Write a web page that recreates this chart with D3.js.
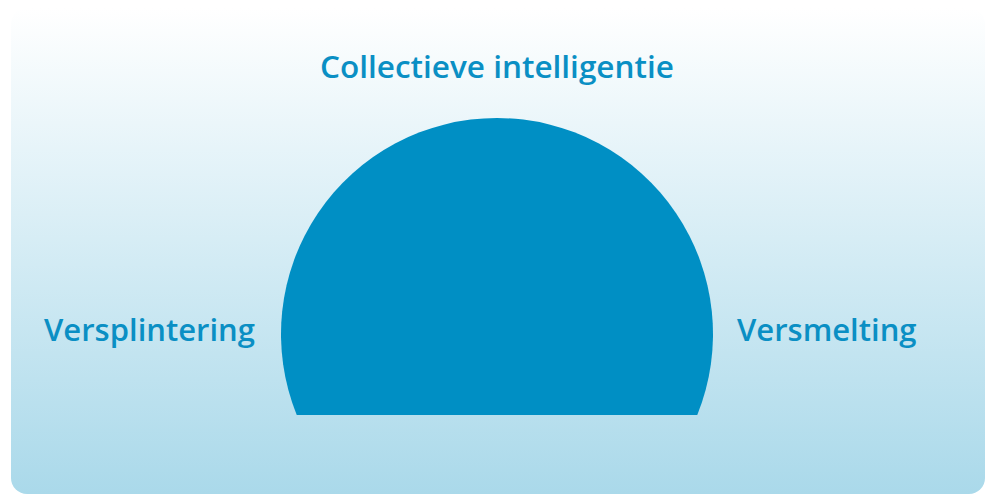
<!DOCTYPE html>
<html>
<head>
<meta charset="utf-8">
<script src="https://cdn.jsdelivr.net/npm/d3@7"></script>
<style>
  html, body { margin: 0; padding: 0; background: #ffffff; }
  svg { display: block; }
</style>
</head>
<body>
<script>
// axis labels around the dome
var labelNames = ['Versplintering', 'Collectieve intelligentie', 'Versmelting'];
var labelSide = ['left', 'top', 'right'];
// dome: position on a -1..1 axis (left .. right), height 0..1, cut-off below centre
var domeSpan = [-1, 1];
var domeTop = [1];
var domeCut = [-0.375];

var width = 992, height = 495;
var blue = '#008fc4';

var svg = d3.select('body').append('svg')
  .attr('width', width)
  .attr('height', height);

var defs = svg.append('defs');
var grad = defs.append('linearGradient')
  .attr('id', 'bgGrad')
  .attr('x1', 0).attr('y1', 0).attr('x2', 0).attr('y2', 1);
grad.append('stop').attr('offset', '0%').attr('stop-color', '#ffffff');
grad.append('stop').attr('offset', '100%').attr('stop-color', '#aad9ea');

// panel background
svg.append('rect')
  .attr('x', 11).attr('y', 8)
  .attr('width', 974).attr('height', 486)
  .attr('rx', 16).attr('ry', 16)
  .attr('fill', 'url(#bgGrad)');

// scales: x from -1..1, y from -1..1 (centre of the circle at 0)
var cx = 497, cy = 334, r = 216;
var x = d3.scaleLinear().domain(domeSpan).range([cx - r, cx + r]);
var y = d3.scaleLinear().domain([-1, 1]).range([cy + r, cy - r]);

var radius = x(domeSpan[1]) - x(0);
var cutY = y(domeCut[0]);
var dy = cutY - y(0);
var a = Math.asin(dy / radius); // angle below horizontal

var p = d3.path();
// canvas angles: 0 = east, positive clockwise (down)
p.arc(x(0), y(0), radius, a, Math.PI - a, true);
p.closePath();

svg.append('path')
  .attr('d', p.toString())
  .attr('fill', blue);

// labels
var font = "'Open Sans', 'Noto Sans', sans-serif";
var labelPos = {
  left: { x: x(domeSpan[0]) - 26, y: y(0) + 7, anchor: 'end', size: 31 },
  top: { x: x(0), y: y(domeTop[0]) - 40, anchor: 'middle', size: 31.5 },
  right: { x: x(domeSpan[1]) + 24, y: y(0) + 7, anchor: 'start', size: 31 }
};

svg.selectAll('text.lbl')
  .data(labelNames)
  .enter()
  .append('text')
  .attr('class', 'lbl')
  .attr('x', function(d, i) { return labelPos[labelSide[i]].x; })
  .attr('y', function(d, i) { return labelPos[labelSide[i]].y; })
  .attr('text-anchor', function(d, i) { return labelPos[labelSide[i]].anchor; })
  .attr('font-family', font)
  .attr('font-weight', 600)
  .attr('font-size', function(d, i) { return labelPos[labelSide[i]].size; })
  .attr('fill', '#0a8fc4')
  .text(function(d) { return d; });
</script>
</body>
</html>
